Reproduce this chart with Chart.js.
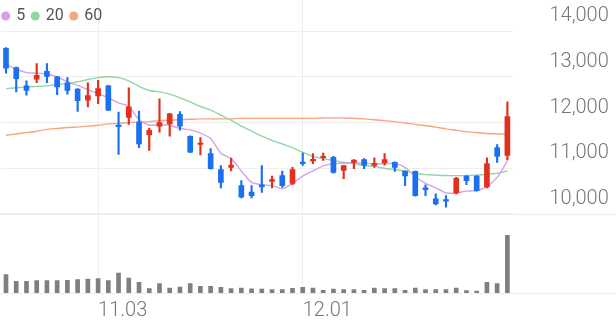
<!DOCTYPE html>
<html>
<head>
<meta charset="utf-8">
<script src="https://cdn.jsdelivr.net/npm/chart.js@4.4.0/dist/chart.umd.min.js"></script>
<style>
  html, body { margin: 0; padding: 0; background: #fff; }
  #wrap { width: 616px; height: 321px; position: relative; }
</style>
</head>
<body>
<div id="wrap"><canvas id="myChart"></canvas></div>
<script>
// trading days shown on the x axis
const dates = [
  '10.23', '10.24', '10.25', '10.26', '10.27', '10.30', '10.31', '11.01', '11.02', '11.03',
  '11.06', '11.07', '11.08', '11.09', '11.10', '11.13', '11.14', '11.15', '11.16', '11.17',
  '11.20', '11.21', '11.22', '11.23', '11.24', '11.27', '11.28', '11.29', '11.30', '12.01',
  '12.04', '12.05', '12.06', '12.07', '12.08', '12.11', '12.12', '12.13', '12.14', '12.15',
  '12.18', '12.19', '12.20', '12.21', '12.22', '12.26', '12.27', '12.28', '01.02', '01.03'
];
const xTickLabels = ['11.03', '12.01'];
const yTicks = [10000, 11000, 12000, 13000, 14000];

const opens = [
  13620, 13200, 12800, 12950, 13120, 13000, 12870, 12730, 12490, 12580,
  12800, 11930, 12110, 12010, 11730, 11920, 11970, 12180, 11700, 11520,
  11320, 10970, 11020, 10620, 10480, 10640, 10710, 10840, 10670, 11130,
  11160, 11230, 11240, 10950, 11130, 11190, 11060, 11120, 11130, 10940,
  10930, 10570, 10330, 10310, 10460, 10830, 10830, 10590, 11450, 11280
];
const highs = [
  13640, 13210, 12910, 13290, 13290, 13010, 12980, 12740, 12870, 12920,
  12810, 12230, 12760, 12250, 11880, 12520, 12200, 12240, 11710, 11670,
  11430, 11060, 11220, 10730, 10620, 11060, 10830, 10940, 11020, 11330,
  11320, 11330, 11260, 11060, 11190, 11210, 11230, 11320, 11140, 10940,
  10940, 10640, 10440, 10400, 10800, 10840, 10840, 11230, 11520, 12450
];
const lows = [
  13080, 12670, 12600, 12870, 12870, 12610, 12620, 12240, 12340, 12410,
  12260, 11300, 11960, 11450, 11390, 11790, 11700, 11830, 11340, 11290,
  10980, 10570, 10940, 10350, 10350, 10470, 10570, 10580, 10640, 11060,
  11100, 11170, 10890, 10770, 10990, 10990, 11020, 11070, 10930, 10620,
  10390, 10400, 10200, 10150, 10440, 10640, 10500, 10570, 11130, 11180
];
const closes = [
  13190, 12960, 12700, 13030, 13010, 12780, 12700, 12480, 12590, 12740,
  12270, 11910, 12340, 11530, 11830, 12000, 12190, 11920, 11350, 11550,
  10990, 10690, 11070, 10370, 10400, 10590, 10750, 10620, 10970, 11100,
  11190, 11260, 10910, 11060, 11180, 11070, 11100, 11190, 11020, 10830,
  10400, 10530, 10220, 10280, 10780, 10730, 10510, 11100, 11260, 12130
];
const volumes = [
  183, 117, 117, 123, 123, 123, 127, 133, 140, 143,
  123, 200, 150, 107, 43, 93, 50, 60, 93, 67,
  67, 57, 43, 50, 42, 40, 33, 33, 47, 57,
  50, 27, 40, 33, 33, 27, 50, 43, 43, 27,
  50, 33, 33, 33, 50, 23, 20, 107, 93, 577
];
const ma5 = [
  13270, 13170, 13090, 13080, 13060, 13000, 12890, 12810, 12720, 12630,
  12540, 12430, 12350, 12060, 11940, 11950, 11940, 11870, 11840, 11770,
  11650, 11330, 11210, 10940, 10690, 10640, 10620, 10550, 10670, 10830,
  10940, 11050, 11100, 11110, 11120, 11110, 11100, 11100, 11100, 11020,
  10820, 10670, 10570, 10460, 10460, 10500, 10510, 10600, 10800, 11160
];
const ma20 = [
  12740, 12760, 12780, 12790, 12800, 12830, 12850, 12890, 12940, 12980,
  13000, 12980, 12910, 12790, 12700, 12670, 12620, 12540, 12450, 12350,
  12270, 12160, 12050, 11920, 11810, 11700, 11610, 11530, 11450, 11350,
  11260, 11210, 11170, 11130, 11100, 11060, 11040, 11000, 10970, 10940,
  10890, 10860, 10850, 10840, 10840, 10840, 10850, 10870, 10890, 10940
];
const ma60 = [
  11720, 11750, 11780, 11810, 11850, 11870, 11890, 11900, 11920, 11940,
  11970, 11980, 12000, 12010, 12020, 12040, 12050, 12060, 12070, 12080,
  12080, 12080, 12080, 12090, 12090, 12090, 12090, 12090, 12090, 12090,
  12090, 12100, 12100, 12100, 12090, 12080, 12060, 12040, 12020, 11990,
  11960, 11930, 11900, 11860, 11830, 11800, 11780, 11760, 11750, 11750
];

const upColor = '#e3301c';
const downColor = '#1a70ee';
const gridColor = '#eeeeee';
const candleColors = opens.map((o, i) => closes[i] >= o ? upColor : downColor);

Chart.defaults.font.family = 'Roboto';

// lines at the bottom of the price panel and of the volume panel run the whole width
const fullLines = {
  id: 'fullLines',
  beforeDatasetsDraw(chart) {
    const { ctx, chartArea, scales } = chart;
    const rows = [scales.y.getPixelForValue(yTicks[0]), chartArea.bottom];
    ctx.save();
    ctx.strokeStyle = gridColor;
    ctx.lineWidth = 1;
    rows.forEach(p => {
      const py = Math.round(p) + 0.5;
      ctx.beginPath();
      ctx.moveTo(0, py);
      ctx.lineTo(chart.width, py);
      ctx.stroke();
    });
    ctx.restore();
  }
};

// small row legend for the moving averages, top left over the plot
const maLegend = {
  id: 'maLegend',
  afterDraw(chart) {
    const { ctx } = chart;
    ctx.save();
    ctx.font = '16px Roboto';
    ctx.textBaseline = 'middle';
    let x = 5.7;
    const y = 16;
    chart.data.datasets.filter(d => d.type === 'line').forEach(d => {
      ctx.fillStyle = d.borderColor;
      ctx.beginPath();
      ctx.arc(x, y, 4.5, 0, Math.PI * 2);
      ctx.fill();
      ctx.fillStyle = '#555';
      ctx.fillText(d.label, x + 10.5, y);
      x += 10.5 + ctx.measureText(d.label).width + 10;
    });
    ctx.restore();
  }
};

const ctx = document.getElementById('myChart');
new Chart(ctx, {
  type: 'bar',
  data: {
    labels: dates,
    datasets: [
      {
        label: '5', type: 'line', data: ma5, yAxisID: 'y',
        borderColor: '#d6a0ec', borderWidth: 1.4, pointRadius: 0, tension: 0.2, order: 2
      },
      {
        label: '20', type: 'line', data: ma20, yAxisID: 'y',
        borderColor: '#8fd6a2', borderWidth: 1.4, pointRadius: 0, tension: 0.2, order: 2
      },
      {
        label: '60', type: 'line', data: ma60, yAxisID: 'y',
        borderColor: '#f8a47c', borderWidth: 1.4, pointRadius: 0, tension: 0.2, order: 2
      },
      {
        label: 'wick', data: lows.map((l, i) => [l, highs[i]]), yAxisID: 'y',
        backgroundColor: candleColors, barThickness: 1.5, grouped: false, order: 1
      },
      {
        label: 'body', data: opens.map((o, i) => [o, closes[i]]), yAxisID: 'y',
        backgroundColor: candleColors, barThickness: 5, minBarLength: 1.5,
        grouped: false, order: 0
      },
      {
        label: 'volume', data: volumes, yAxisID: 'yv',
        backgroundColor: '#7f7f7f', barThickness: 4, grouped: false, order: 3
      }
    ]
  },
  options: {
    responsive: true,
    maintainAspectRatio: false,
    animation: false,
    events: [],
    layout: { padding: 0 },
    plugins: {
      tooltip: { enabled: false },
      legend: { display: false }
    },
    scales: {
      x: {
        offset: true,
        grid: {
          offset: false,
          drawTicks: false,
          color: c => (c.tick && xTickLabels.includes(dates[c.index])) ? gridColor : 'rgba(0,0,0,0)'
        },
        border: { display: false },
        ticks: {
          autoSkip: false,
          maxRotation: 0,
          align: 'start',
          padding: 6,
          color: '#777',
          font: { size: 20, weight: 300 },
          callback: (v, i) => xTickLabels.includes(dates[i]) ? dates[i] : ''
        },
        afterFit: scale => { scale.height = 28; }
      },
      y: {
        position: 'right',
        min: 8273,
        max: 14678,
        afterBuildTicks: scale => { scale.ticks = yTicks.map(v => ({ value: v })); },
        grid: { color: gridColor, drawTicks: false },
        border: { display: false },
        ticks: {
          crossAlign: 'near',
          padding: 37,
          labelOffset: -15,
          color: '#777',
          font: { size: 20, weight: 300 },
          callback: v => v.toLocaleString('en-US')
        },
        afterFit: scale => {
          scale.width = 103.5;
          scale.paddingTop = 0;
          scale.paddingBottom = 0;
        }
      },
      yv: {
        display: false,
        position: 'right',
        min: 0,
        max: 2930
      }
    }
  },
  plugins: [fullLines, maLegend]
});
</script>
</body>
</html>
